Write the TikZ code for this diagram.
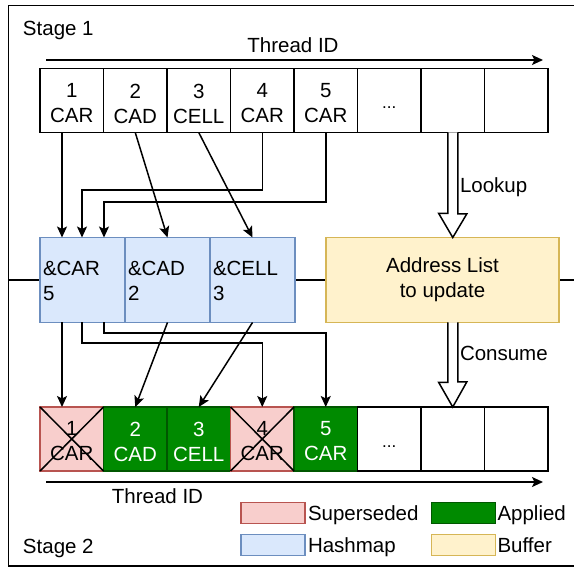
\documentclass[tikz,border=0pt]{standalone}
\usepackage{fontspec}
\setmainfont{Liberation Sans}
\usetikzlibrary{arrows.meta}
\definecolor{supF}{HTML}{F8CECC}
\definecolor{supD}{HTML}{B85450}
\definecolor{appF}{HTML}{008A00}
\definecolor{appD}{HTML}{005700}
\definecolor{hashF}{HTML}{DAE8FC}
\definecolor{hashD}{HTML}{6C8EBF}
\definecolor{bufF}{HTML}{FFF2CC}
\definecolor{bufD}{HTML}{D6B656}
\begin{document}
\begin{tikzpicture}[x=1pt,y=-1pt,
  lw/.style={line width=1.5pt},
  txt/.style={font=\fontsize{20.5}{25}\selectfont, inner sep=0pt, outer sep=0pt},
  dots/.style={font=\fontsize{17}{20}\selectfont, inner sep=0pt, anchor=base},
  cell/.style={draw, lw, minimum width=63.5pt, minimum height=64pt, inner sep=0pt, outer sep=0pt, anchor=north west},
  sup/.style={cell, fill=supF, draw=supD},
  app/.style={cell, fill=appF, draw=appD},
  hash/.style={draw=hashD, fill=hashF, lw, minimum width=85pt, minimum height=85pt, inner sep=0pt, outer sep=0pt, anchor=north west},
  buf/.style={draw=bufD, fill=bufF, lw, inner sep=0pt, outer sep=0pt, anchor=north west},
  leg/.style={lw, minimum width=64pt, minimum height=21pt, inner sep=0pt, outer sep=0pt, anchor=north west},
  arr/.style={lw, -{Stealth[length=11pt,width=10pt,inset=2.5pt]}},
  fat/.style={lw, fill=white, line join=miter}
]
\useasboundingbox (0,0) rectangle (574,567);

% frame and stage divider
\draw[lw] (580,5.5) -- (8.5,5.5) -- (8.5,566) -- (580,566);
\draw[lw] (8.5,280) -- (580,280);

% stage labels
\node[txt, anchor=base west] (st1) at (23,36) {Stage 1};
\node[txt, anchor=base west] (st2) at (23,553) {Stage 2};

% top thread id axis
\coordinate (ta0) at (46,60);
\coordinate (ta1) at (543,60);
\draw[arr] (ta0) -- (ta1);
\node[txt, anchor=base] (tid1) at (293,53) {Thread ID};

% top row
\foreach \i in {1,...,8} {
  \node[cell] (t\i) at ({40+63.5*(\i-1)},68.5) {};
}
\node[txt, align=center] (t1x) at ([yshift=-3pt]t1.center) {1\\CAR};
\node[txt, align=center] (t2x) at ([yshift=-3pt]t2.center) {2\\CAD};
\node[txt, align=center] (t3x) at ([yshift=-3pt]t3.center) {3\\CELL};
\node[txt, align=center] (t4x) at ([yshift=-3pt]t4.center) {4\\CAR};
\node[txt, align=center] (t5x) at ([yshift=-3pt]t5.center) {5\\CAR};
\node[dots] (t6x) at ([yshift=-8pt]t6.center) {...};

% hashmap
\node[hash] (h1) at (40,237.5) {};
\node[hash] (h2) at (125,237.5) {};
\node[hash] (h3) at (210,237.5) {};
\node[txt, align=left, anchor=west] (h1x) at ([xshift=3pt,yshift=-1pt]h1.west) {\&CAR\\5};
\node[txt, align=left, anchor=west] (h2x) at ([xshift=3pt,yshift=-1pt]h2.west) {\&CAD\\2};
\node[txt, align=left, anchor=west] (h3x) at ([xshift=3pt,yshift=-1pt]h3.west) {\&CELL\\3};

% buffer
\node[buf, minimum width=233pt, minimum height=85pt] (ad) at (326,237.5) {};
\node[txt, align=center] (adx) at (ad.center) {Address List\\to update};

% bottom row
\node[sup] (b1) at (40,407) {};
\node[app] (b2) at (103.5,407) {};
\node[app] (b3) at (167,407) {};
\node[sup] (b4) at (230.5,407) {};
\node[app] (b5) at (294,407) {};
\node[cell] (b6) at (357.5,407) {};
\node[cell] (b7) at (421,407) {};
\node[cell] (b8) at (484.5,407) {};
\node[txt, align=center] (b1x) at ([yshift=-2.5pt]b1.center) {1\\CAR};
\node[txt, align=center, text=white] (b2x) at ([yshift=-2.5pt]b2.center) {2\\CAD};
\node[txt, align=center, text=white] (b3x) at ([yshift=-2.5pt]b3.center) {3\\CELL};
\node[txt, align=center] (b4x) at ([yshift=-2.5pt]b4.center) {4\\CAR};
\node[txt, align=center, text=white] (b5x) at ([yshift=-2.5pt]b5.center) {5\\CAR};
\node[dots] (b6x) at ([yshift=-8pt]b6.center) {...};
\draw[lw] (b1.north west) -- (b1.south east) (b1.south west) -- (b1.north east);
\draw[lw] (b4.north west) -- (b4.south east) (b4.south west) -- (b4.north east);

% bottom thread id axis
\coordinate (ba0) at (46,482);
\coordinate (ba1) at (543,482);
\draw[arr] (ba0) -- (ba1);
\node[txt, anchor=base] (tid2) at (157.5,503) {Thread ID};

% stage 1 connectors
\draw[arr] ([xshift=22pt]t1.south west) -- ([xshift=22pt]h1.north west);
\draw[arr] (t4.south) |- (82,190) -- ([xshift=42pt]h1.north west);
\draw[arr] (t5.south) |- (104,202) -- ([xshift=64pt]h1.north west);
\draw[arr] (t2.south) -- (h2.north);
\draw[arr] (t3.south) -- (h3.north);

% stage 2 connectors
\draw[arr] ([xshift=22pt]h1.south west) -- ([xshift=22pt]b1.north west);
\draw[arr] ([xshift=42pt]h1.south west) |- (262.25,343) -- (b4.north);
\draw[arr] ([xshift=64pt]h1.south west) |- (325.75,333) -- (b5.north);
\draw[arr] (h2.south) -- (b2.north);
\draw[arr] (h3.south) -- (b3.north);

% lookup / consume fat arrows
\draw[fat] ([xshift=-5pt]t7.south) -- ++(0,81) -- ++(-9,0) -- (ad.north -| t7.south) -- ++(14,-23.5) -- ++(-9,0) -- ([xshift=5pt]t7.south);
\node[txt, anchor=base west] (lk) at (460,193) {Lookup};
\draw[fat] ([xshift=-5pt]ad.south -| b7.north) -- ++(0,60) -- ++(-9,0) -- (b7.north) -- ++(14,-25) -- ++(-9,0) -- ([xshift=5pt]ad.south -| b7.north);
\node[txt, anchor=base west] (cs) at (460,361) {Consume};

% legend
\node[leg, fill=supF, draw=supD] (l1) at (241,502.5) {};
\node[leg, fill=appF, draw=appD] (l2) at (431.5,502.5) {};
\node[leg, fill=hashF, draw=hashD] (l3) at (241,534.5) {};
\node[leg, fill=bufF, draw=bufD] (l4) at (431.5,534.5) {};
\node[txt, anchor=base west] (l1x) at (308,520) {Superseded};
\node[txt, anchor=base west] (l2x) at (497.5,520) {Applied};
\node[txt, anchor=base west] (l3x) at (308,552) {Hashmap};
\node[txt, anchor=base west] (l4x) at (497.5,552) {Buffer};
\end{tikzpicture}
\end{document}
